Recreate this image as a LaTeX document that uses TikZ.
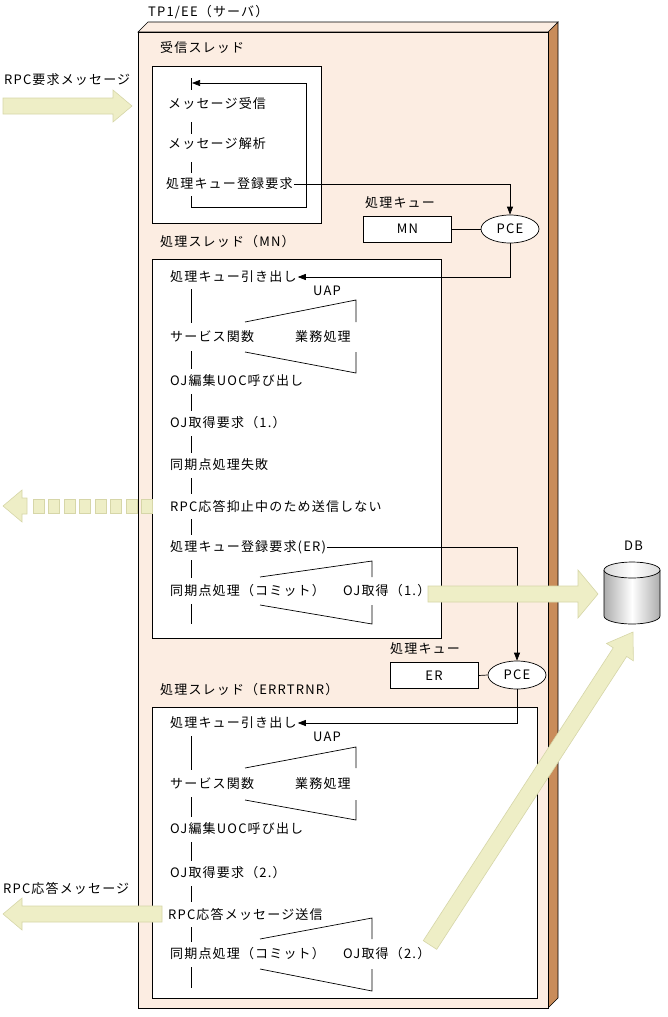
\documentclass[tikz,border=0pt]{standalone}
\usepackage{fontspec}
\setmainfont{Noto Sans CJK JP}[LetterSpace=9]
\usetikzlibrary{arrows.meta,shapes.geometric}
\definecolor{srv}{HTML}{FCEDE2}
\definecolor{side}{HTML}{C98C5A}
\definecolor{fat}{HTML}{EEEEC6}
\definecolor{fatl}{HTML}{D6D6A8}
\tikzset{
  lbl/.style={anchor=west,inner sep=0pt,font=\fontsize{13}{15}\selectfont},
  box/.style={draw,fill=white,line width=0.8pt},
  fatarr/.style={fill=fat,draw=fatl,line width=0.6pt},
  conn/.style={line width=0.7pt},
  arr/.style={conn,-{Triangle[length=8pt,width=6pt]}},
  pce/.style={draw,fill=white,ellipse,minimum width=58pt,minimum height=28pt,inner sep=0pt,font=\fontsize{13}{15}\selectfont,line width=0.7pt},
  qbox/.style={draw,fill=white,minimum width=88pt,minimum height=26pt,inner sep=0pt,font=\fontsize{13}{15}\selectfont,line width=0.7pt}
}
\begin{document}
\begin{tikzpicture}[x=1pt,y=-1pt]
\useasboundingbox (0,0) rectangle (668,1017);
% server
\fill[side,draw=black,line width=0.6pt] (548,32)--(558,22)--(558,998)--(548,1008)--cycle;
\fill[srv,draw=black,line width=0.6pt] (138,32)--(148,22)--(558,22)--(548,32)--cycle;
\draw[fill=srv,line width=0.6pt] (138,32) rectangle (548,1008);
\node[lbl] (title) at (148,12) {TP1/EE（サーバ）};
% receive thread
\node[lbl] (rt) at (160,48) {受信スレッド};
\draw[box] (152,66) rectangle (321,223);
\node[lbl] (r1) at (168,104) {メッセージ受信};
\node[lbl] (r2) at (168,144) {メッセージ解析};
\node[lbl] (r3) at (166,184) {処理キュー登録要求};
\draw[conn] (191,78)--(191,90) (191,122)--(191,134) (191,162)--(191,173);
\draw[arr] (191,196)--(191,207)--(306,207)--(306,83)--(192,83);
% queue MN
\node[lbl] (q1l) at (365,203) {処理キュー};
\node[qbox] (mn) at (407.5,229) {MN};
\node[pce] (pce1) at (510,229) {PCE};
\draw[conn] (mn.east)--(pce1.west);
\draw[arr] ([xshift=1pt]r3.east) -| (pce1.north);
% MN thread
\node[lbl] (mt) at (160,242) {処理スレッド（MN）};
\draw[box] (152,259) rectangle (441,638);
\node[lbl] (m1) at (170,277) {処理キュー引き出し};
\draw[arr] (pce1.south) |- ([xshift=1pt]m1.east);
\node[lbl] (uap1) at (313,291) {UAP};
\node[lbl] (m2) at (170,337) {サービス関数};
\node[lbl] (m2b) at (295,337) {業務処理};
\node[lbl] (m3) at (170,381) {OJ編集UOC呼び出し};
\node[lbl] (m4) at (170,423) {OJ取得要求（1.）};
\node[lbl] (m5) at (170,465) {同期点処理失敗};
\node[lbl] (m6) at (170,506) {RPC応答抑止中のため送信しない};
\node[lbl] (m7) at (170,547) {処理キュー登録要求(ER)};
\node[lbl] (m8) at (170,591) {同期点処理（コミット）};
\node[lbl] (m8b) at (343,591) {OJ取得（1.）};
\draw[conn] (191,289)--(191,323) (191,351)--(191,369) (191,394)--(191,411) (191,436)--(191,453) (191,478)--(191,494) (191,519)--(191,535) (191,560)--(191,578) (191,604)--(191,624);
\draw[conn] (245,322)--(356,300)--(356,322) (245,352)--(356,373)--(356,352);
\draw[conn] (260,577)--(372,561)--(372,577) (260,605)--(372,624)--(372,605);
% queue ER
\node[lbl] (q2l) at (390,649) {処理キュー};
\node[qbox] (er) at (434,675.5) {ER};
\node[pce] (pce2) at (517,675) {PCE};
\draw[conn] (er.east)--(pce2.west);
\draw[arr] ([xshift=1pt]m7.east) -| (pce2.north);
% ERRTRNR thread
\node[lbl] (et) at (160,690) {処理スレッド（ERRTRNR）};
\draw[box] (152,707) rectangle (537,998);
\node[lbl] (e1) at (170,723) {処理キュー引き出し};
\draw[arr] (pce2.south) |- ([xshift=1pt]e1.east);
\node[lbl] (uap2) at (313,737) {UAP};
\node[lbl] (e2) at (170,784) {サービス関数};
\node[lbl] (e2b) at (295,784) {業務処理};
\node[lbl] (e3) at (170,829) {OJ編集UOC呼び出し};
\node[lbl] (e4) at (170,873) {OJ取得要求（2.）};
\node[lbl] (e5) at (168,914) {RPC応答メッセージ送信};
\node[lbl] (e6) at (170,954) {同期点処理（コミット）};
\node[lbl] (e6b) at (343,954) {OJ取得（2.）};
\draw[conn] (191,736)--(191,770) (191,797)--(191,817) (191,842)--(191,861) (191,886)--(191,902) (191,927)--(191,942) (191,967)--(191,988);
\draw[conn] (245,768)--(356,747)--(356,768) (245,800)--(356,820)--(356,800);
\draw[conn] (260,939)--(372,918)--(372,939) (260,969)--(372,991)--(372,969);
% DB
\node[lbl] (dbl) at (624,546) {DB};
\shade[left color=gray!65,right color=gray!65,middle color=white] (604,570) -- (604,616) arc[start angle=180,end angle=0,x radius=28,y radius=8] -- (660,570) -- cycle;
\draw[line width=0.7pt] (604,570)--(604,616) arc[start angle=180,end angle=0,x radius=28,y radius=8]--(660,570);
\shade[left color=gray!30,right color=gray!30,middle color=white,draw=black,line width=0.7pt] (632,570) ellipse[x radius=28,y radius=8];
% fat arrows
\node[lbl] (req) at (4,80) {RPC要求メッセージ};
\draw[fatarr] (3,98)--(113,98)--(113,90)--(132,106)--(113,122)--(113,114)--(3,114)--cycle;
\draw[fatarr] (428,586)--(578,586)--(578,570)--(598,594)--(578,618)--(578,602)--(428,602)--cycle;
\draw[fatarr] (436.71,949.35)--(626.65,656.49)--(633.37,660.85)--(633,632)--(606.51,643.43)--(613.23,647.79)--(423.29,940.65)--cycle;
\node[lbl] (resp) at (3,888) {RPC応答メッセージ};
\draw[fatarr] (162,906)--(22,906)--(22,898)--(3,914)--(22,930)--(22,922)--(162,922)--cycle;
% dashed arrow
\draw[fatarr] (3,506)--(22,490)--(22,498)--(27,498)--(27,514)--(22,514)--(22,522)--cycle;
\foreach \i in {0,...,7} \draw[fatarr] (33+15.5*\i,499) rectangle +(11,14);
\end{tikzpicture}
\end{document}
